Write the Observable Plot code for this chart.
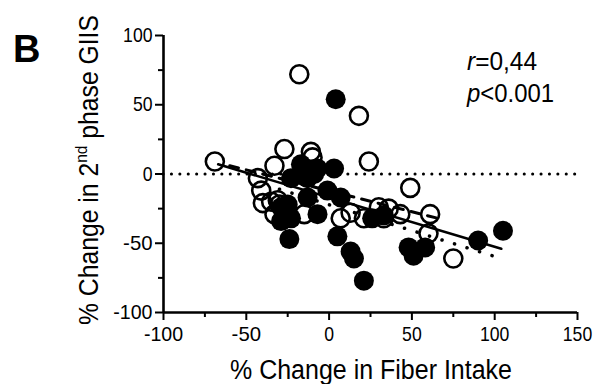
<!DOCTYPE html>
<html><head><meta charset="utf-8">
<script src="https://cdn.jsdelivr.net/npm/d3@7"></script>
<script src="https://cdn.jsdelivr.net/npm/@observablehq/plot@0.6"></script>
<style>
body{margin:0;background:#fff}
#chart{position:relative;width:597px;height:384px}
#chart svg{overflow:visible}
</style>
</head><body><div id="chart"></div>
<script>
// Open circles
const openX = [-69,-18,18,-27,-11,-10,24,49,-33,-43,-41,-35,-33,-15,13,21,30,33,7,43,61,60,75,-30,-31,36,-40];
const openY = [9,72,42,18,16,12,9,-10,6,-3,-12,-20,-29,-29,-28,-32,-24,-32,-32,-29,-29,-43,-61,-22,-19,-25,-21];
// Filled circles
const filledX = [4,-17,-7,3,-23,-1,7,-25,-23,-29,-7,-13,26,33,-24,5,13,15,21,105,90,48,51,58,-13,-9,-29,-17];
const filledY = [54,7,4,4,-3,-12,-17,-22,-32,-34,-29,-17,-32,-30,-47,-45,-56,-61,-77,-41,-48,-53,-59,-53,-3,0,-24,0];
// Fit lines (endpoints)
const fitAllX = [-67,104], fitAllY = [7,-54];
const fitOpenX = [-60,69], fitOpenY = [6,-33];
const fitFilledX = [-30,104], fitFilledY = [-11,-61];
// Axis ticks
const xTicks = [-100,-50,0,50,100,150], xMinor = [-75,-25,25,75,125];
const yTicks = [-100,-50,0,50,100], yMinor = [-75,-25,25,75];
const xLabel = "% Change in Fiber Intake";
const statR = "=0,44", statP = "<0.001";

const openData = openX.map((x,i)=>({x, y: openY[i]}));
const filledData = filledX.map((x,i)=>({x, y: filledY[i]}));
const line = (xs, ys) => xs.map((x,i)=>({x, y: ys[i]}));

const font = "'Liberation Sans', Arial, sans-serif";
const plot = Plot.plot({
  width: 597, height: 384,
  marginLeft: 163, marginRight: 20, marginTop: 35, marginBottom: 72,
  style: {fontFamily: font, background: "white", color: "black"},
  x: {domain: [-100,150], label: null},
  y: {domain: [-100,100], label: null},
  marks: [
    Plot.ruleY([0], {stroke: "black", strokeWidth: 3, strokeDasharray: "0.1,8.3", strokeLinecap: "round"}),
    Plot.dot(openData, {x: "x", y: "y", r: 9, stroke: "black", strokeWidth: 2.6, fill: "none"}),
    Plot.dot(filledData, {x: "x", y: "y", r: 10, fill: "black", stroke: "none"}),
    Plot.line(line(fitAllX, fitAllY), {x: "x", y: "y", stroke: "black", strokeWidth: 2.5}),
    Plot.line(line(fitOpenX, fitOpenY), {x: "x", y: "y", stroke: "black", strokeWidth: 3, strokeDasharray: "9,8"}),
    Plot.line(line(fitFilledX, fitFilledY), {x: "x", y: "y", stroke: "black", strokeWidth: 3.5, strokeDasharray: "0.1,13", strokeLinecap: "round"}),
    Plot.axisX({ticks: xTicks, tickSize: 8, tickPadding: 6, strokeWidth: 2, tickFormat: d => String(d), label: null}),
    Plot.axisX({ticks: xMinor, tickSize: 5, strokeWidth: 2, text: null, label: null}),
    Plot.axisY({ticks: yTicks, tickSize: 8, tickPadding: 3, strokeWidth: 2, tickFormat: d => String(d), label: null}),
    Plot.axisY({ticks: yMinor, tickSize: 5, strokeWidth: 2, text: null, label: null}),
    Plot.ruleX([-100], {stroke: "black", strokeWidth: 2.6}),
    Plot.ruleY([-100], {stroke: "black", strokeWidth: 2.6})
  ]
});
document.getElementById("chart").appendChild(plot);

const svg = d3.select(plot);
// Tick label size (condensed look)
svg.selectAll("g[aria-label='x-axis tick label'], g[aria-label='y-axis tick label']")
  .attr("font-size", 21);
svg.selectAll("g[aria-label='x-axis tick label'] text, g[aria-label='y-axis tick label'] text")
  .attr("font-size", 21).attr("lengthAdjust", "spacingAndGlyphs")
  .each(function() {
    const n = this.textContent.length;
    d3.select(this).attr("textLength", n * 9.8);
  });
// Panel letter
svg.append("text").attr("x", 13).attr("y", 62).attr("text-anchor", "start")
  .attr("font-size", 38).attr("font-weight", "bold").attr("fill", "black").text("B");
// X axis title
svg.append("text").attr("x", 371).attr("y", 379).attr("text-anchor", "middle")
  .attr("font-size", 27).attr("fill", "black")
  .attr("textLength", 282).attr("lengthAdjust", "spacingAndGlyphs").text(xLabel);
// Y axis title with superscript
const yt = svg.append("text").attr("transform", "translate(98,170) rotate(-90)")
  .attr("text-anchor", "middle").attr("font-size", 27).attr("fill", "black")
  .attr("textLength", 310).attr("lengthAdjust", "spacingAndGlyphs");
yt.append("tspan").text("% Change in 2");
yt.append("tspan").attr("dy", -11).attr("font-size", 17).text("nd");
yt.append("tspan").attr("dy", 11).text(" phase GIIS");
// Statistics annotation
const t1 = svg.append("text").attr("x", 467).attr("y", 70).attr("text-anchor", "start").attr("font-size", 26).attr("fill", "black")
  .attr("textLength", 70).attr("lengthAdjust", "spacingAndGlyphs");
t1.append("tspan").attr("font-style", "italic").text("r");
t1.append("tspan").text(statR);
const t2 = svg.append("text").attr("x", 467).attr("y", 102).attr("text-anchor", "start").attr("font-size", 26).attr("fill", "black")
  .attr("textLength", 87).attr("lengthAdjust", "spacingAndGlyphs");
t2.append("tspan").attr("font-style", "italic").text("p");
t2.append("tspan").text(statP);
</script>
</body></html>
